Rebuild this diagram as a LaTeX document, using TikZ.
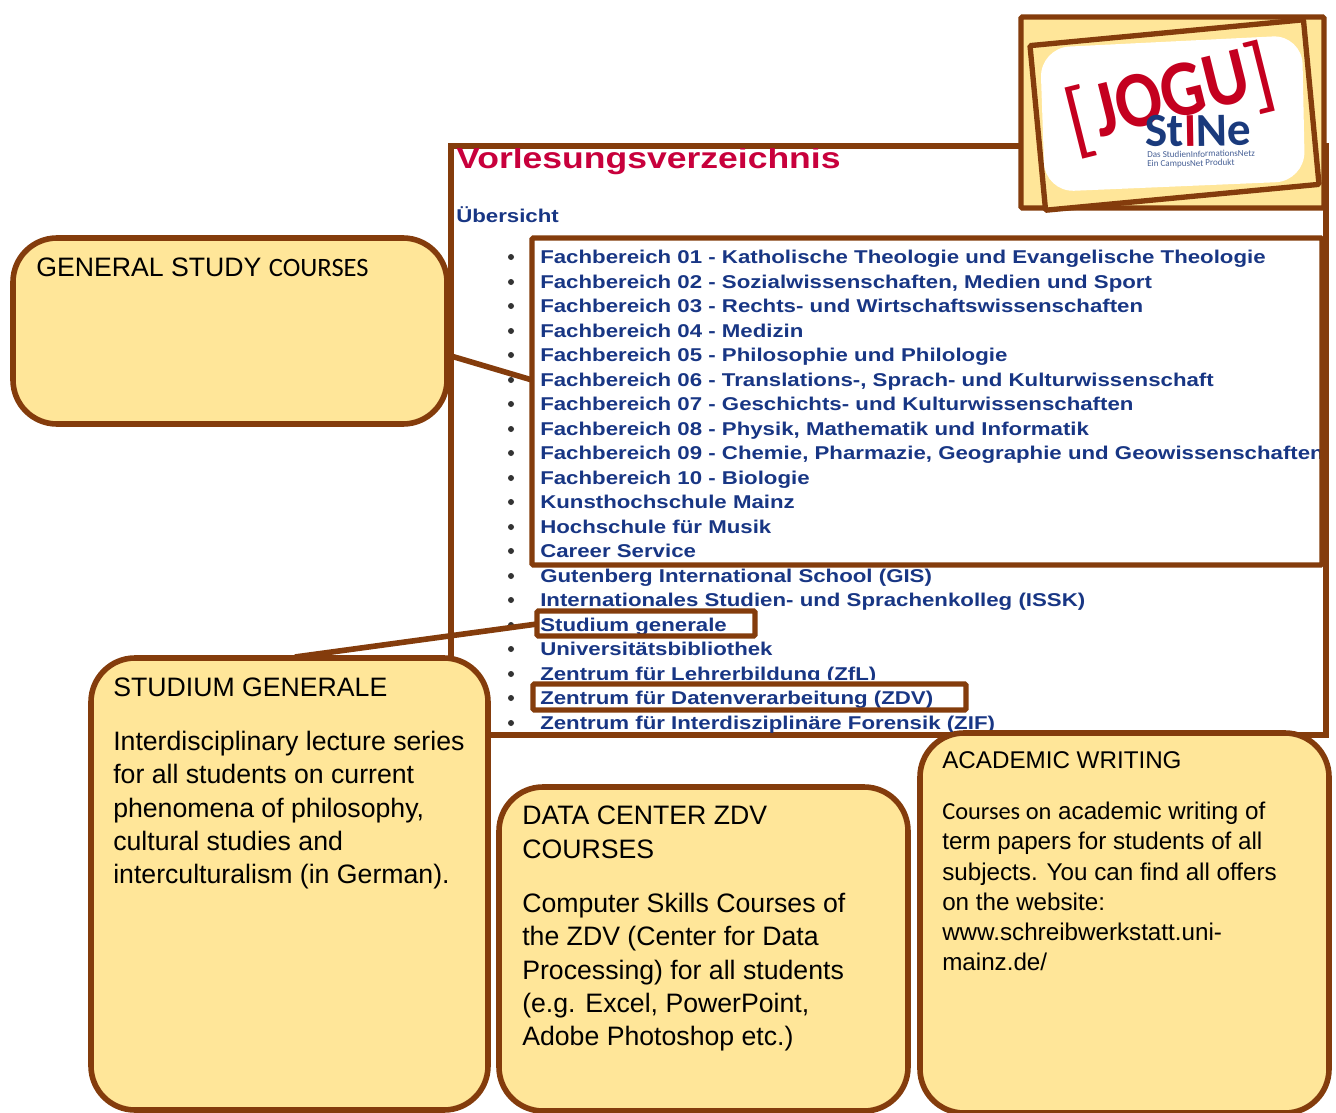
\documentclass[tikz,border=0pt]{standalone}
\usepackage{fontspec}
\usetikzlibrary{fit}
\setmainfont{Liberation Sans}
\newfontfamily\carl{Carlito}
\newfontfamily\carlb{Carlito Bold}
\newfontfamily\listf[FakeStretch=1.2]{Liberation Sans Bold}
\definecolor{brn}{HTML}{843C0C}
\definecolor{yel}{HTML}{FFE699}
\definecolor{lnk}{HTML}{183684}
\definecolor{ttl}{HTML}{C8003C}
\definecolor{stb}{HTML}{1A3A7C}
\definecolor{lred}{HTML}{C4001F}
\tikzset{
 callout/.style={draw=brn,line width=4.2pt,fill=yel,rounded corners=33pt,inner sep=0pt},
 mark box/.style={draw=brn,line width=4pt,inner sep=0pt,rounded corners=1pt},
 conn/.style={draw=brn,line width=4.2pt},
 ctext/.style={anchor=north west,inner sep=0pt,align=left,text=black,font=\fontsize{20}{25}\selectfont},
 atext/.style={anchor=north west,inner sep=0pt,align=left,text=black,font=\fontsize{18.15}{22.6}\selectfont},
 litem/.style={anchor=base west,inner sep=0pt,text=lnk,font=\listf\fontsize{13.9}{16}\selectfont},
 bull/.style={circle,fill=black!80,inner sep=0pt,minimum size=4.5pt},
}
\newcommand{\li}[3]{\node[bull] (b#1) at (511,#2) {}; \node[litem] (t#1) at (540,#2+6) {#3};}
\begin{document}
\begin{tikzpicture}[x=0.75pt,y=-0.75pt]
\useasboundingbox (0,0) rectangle (1336,1113);
\fill[white] (0,0) rectangle (1336,1113);
% page frame
\node[draw=brn,line width=4pt,fill=white,inner sep=0pt,fit={(451,146)(1326,735)}] (page) {};
\begin{scope}
\clip (453,148) rectangle (1319,733);
\node[anchor=base west,inner sep=0pt,text=ttl,font=\listf\fontsize{22.2}{24}\selectfont] (title) at (456,168.5) {Vorlesungsverzeichnis};
\node[anchor=base west,inner sep=0pt,text=lnk,font=\listf\fontsize{13.9}{16}\selectfont] (over) at (456,222) {Übersicht};
\li{1}{257}{Fachbereich 01 - Katholische Theologie und Evangelische Theologie}
\li{2}{282}{Fachbereich 02 - Sozialwissenschaften, Medien und Sport}
\li{3}{306}{Fachbereich 03 - Rechts- und Wirtschaftswissenschaften}
\li{4}{331}{Fachbereich 04 - Medizin}
\li{5}{355}{Fachbereich 05 - Philosophie und Philologie}
\li{6}{380}{Fachbereich 06 - Translations-, Sprach- und Kulturwissenschaft}
\li{7}{404}{Fachbereich 07 - Geschichts- und Kulturwissenschaften}
\li{8}{429}{Fachbereich 08 - Physik, Mathematik und Informatik}
\li{9}{453}{Fachbereich 09 - Chemie, Pharmazie, Geographie und Geowissenschaften}
\li{10}{478}{Fachbereich 10 - Biologie}
\li{11}{502}{Kunsthochschule Mainz}
\li{12}{527}{Hochschule für Musik}
\li{13}{551}{Career Service}
\li{14}{576}{Gutenberg International School (GIS)}
\li{15}{600}{Internationales Studien- und Sprachenkolleg (ISSK)}
\li{16}{625}{Studium generale}
\li{17}{649}{Universitätsbibliothek}
\li{18}{674}{Zentrum für Lehrerbildung (ZfL)}
\fill[white] (536,680) rectangle (900,688);
\li{19}{698}{Zentrum für Datenverarbeitung (ZDV)}
\li{20}{723}{Zentrum für Interdisziplinäre Forensik (ZIF)}
\end{scope}
% highlight boxes
\node[mark box,fit={(532,238)(1322,565)}] (fbbox) {};
\node[mark box,fit={(537,611)(755,636)}] (sgbox) {};
\node[mark box,fit={(533,684)(966,710)}] (zdvbox) {};
% logo
\node[draw=brn,line width=4pt,fill=yel,rounded corners=1pt,inner sep=0pt,fit={(1021,17)(1324,208)}] (logoback) {};
\node[draw=brn,line width=4pt,fill=yel,rounded corners=1pt,inner sep=0pt,rotate=5.4,minimum width=206pt,minimum height=124pt] (logofront) at (1174.5,115) {};
\fill[white,rounded corners=22pt] (1040,48) -- (1302,35) -- (1305,181) -- (1045,192) -- cycle;
\node[text=lred,inner sep=0pt,rotate=14,font=\carlb\fontsize{60}{60}\selectfont] (jogu) at (1171,93) {\scalebox{0.86}[1]{JOGU}};
\node[text=lred,inner sep=0pt,rotate=14,font=\carl\fontsize{64}{64}\selectfont] (lbr) at (1080,122) {[};
\node[text=lred,inner sep=0pt,rotate=14,font=\carl\fontsize{64}{64}\selectfont] (rbr) at (1260,77) {]};
\node[anchor=base west,text=stb,inner sep=0pt,rotate=1,font=\carlb\fontsize{35.5}{36}\selectfont] (stine) at (1145,147) {St\textcolor{lred}{I}Ne};
\node[anchor=base west,text=stb!80,inner sep=0pt,rotate=1,font=\carl\fontsize{6.8}{8}\selectfont] (sub1) at (1147,158) {Das StudienInformationsNetz};
\node[anchor=base west,text=stb!80,inner sep=0pt,rotate=1,font=\carl\fontsize{6.8}{8}\selectfont] (sub2) at (1147,167) {Ein CampusNet Produkt};
% callouts
\node[callout,fit={(13,238)(447,424)}] (general) {};
\node[callout,fit={(91,658)(488,1110)}] (studium) {};
\node[callout,fit={(499,787)(908,1111)}] (data) {};
\node[callout,fit={(920,733)(1329,1113)}] (academic) {};
% connectors
\coordinate (gl) at (451,356);
\coordinate (fl) at (532,380);
\coordinate (sl) at (295,657);
\coordinate (sr) at (537,624);
\draw[conn] (gl) -- (fl);
\draw[conn] (sl) -- (sr);
% callout text
\node[ctext] (gt) at (36,258) {GENERAL STUDY {\carl\fontsize{19.9}{25}\selectfont COURSES}};
\node[ctext] (st1) at (113,678) {STUDIUM GENERALE};
\node[ctext] (st2) at (113,731) {Interdisciplinary lecture series\\for all students on current\\phenomena of philosophy,\\cultural studies and\\interculturalism (in German).};
\node[ctext] (dt1) at (522,806) {DATA CENTER ZDV\\COURSES};
\node[ctext] (dt2) at (522,893) {Computer Skills Courses of\\the ZDV (Center for Data\\Processing) for all students\\(e.g. Excel, PowerPoint,\\Adobe Photoshop etc.)};
\node[atext] (at1) at (942,751) {ACADEMIC WRITING};
\node[atext] (at2) at (942,802) {{\carl\fontsize{18.3}{22.6}\selectfont Courses on} academic writing of\\term papers for students of all\\subjects. You can find all offers\\on the website:\\www.schreibwerkstatt.uni-\\mainz.de/};
\end{tikzpicture}
\end{document}
